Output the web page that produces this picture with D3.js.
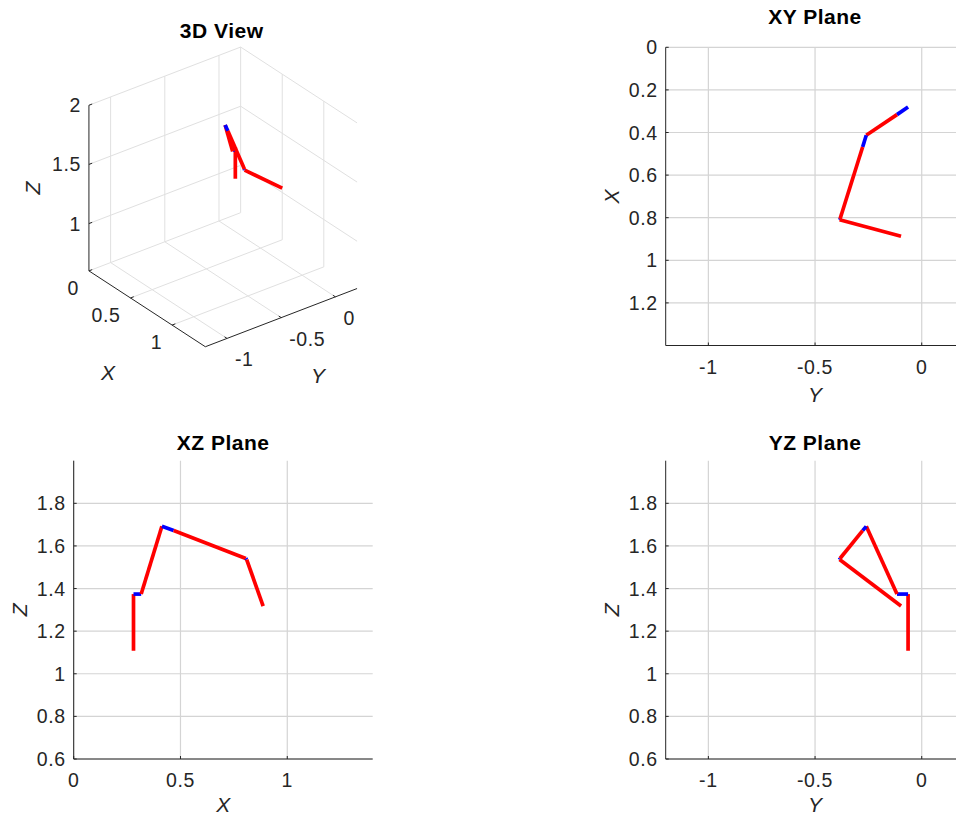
<!DOCTYPE html>
<html>
<head>
<meta charset="utf-8">
<script src="https://cdn.jsdelivr.net/npm/d3@7"></script>
<style>
  html, body { margin: 0; padding: 0; background: #fff; }
  svg { display: block; }
  text { font-family: "Liberation Sans", Arial, Helvetica, sans-serif; }
</style>
</head>
<body>
<svg id="fig" width="956" height="817"></svg>
<script>
// Joint chain of the arm (world coordinates, metres)
const jointX = [0.280, 0.280, 0.316, 0.413, 0.468, 0.806, 0.810, 0.887];
const jointY = [-0.064, -0.064, -0.116, -0.260, -0.277, -0.383, -0.385, -0.097];
const jointZ = [1.108, 1.374, 1.374, 1.692, 1.672, 1.541, 1.536, 1.318];
// colour of each link between consecutive joints (links vs. joint offsets)
const linkColor = ["red", "blue", "red", "blue", "red", "blue", "red"];

// Axis limits
const xLim = [0, 1.4];
const yLim = [-1.2, 0.2];
const zLim = [0.6, 2.0];

// Tick values
const ticksX3 = [0, 0.5, 1];
const ticksY3 = [-1, -0.5, 0];
const ticksZ3 = [1, 1.5, 2];
const ticksXvert = [0, 0.2, 0.4, 0.6, 0.8, 1, 1.2];
const ticksXhoriz = [0, 0.5, 1];
const ticksYhoriz = [-1, -0.5, 0];
const ticksZvert = [0.6, 0.8, 1, 1.2, 1.4, 1.6, 1.8];

const titles = ["3D View", "XY Plane", "XZ Plane", "YZ Plane"];

const AXIS = "#262626", GRID2 = "#d4d4d4", GRID3 = "#e0e0e0";
const LW = 3.7, FS = 19.5;

const svg = d3.select("#fig");
const joints = jointX.map((x, i) => ({ x, y: jointY[i], z: jointZ[i] }));
const links = linkColor.map((c, i) => ({ a: joints[i], b: joints[i + 1], color: c }));
const fmt = v => String(v);

function tickText(g, x, y, txt, anchor) {
  g.append("text").attr("x", x).attr("y", y)
    .attr("text-anchor", anchor).attr("dominant-baseline", "central")
    .attr("font-size", FS).attr("letter-spacing", "0.6px").attr("fill", AXIS).text(txt);
}
function axisLabel(g, x, y, txt, rotate) {
  const t = g.append("text").attr("x", x).attr("y", y)
    .attr("text-anchor", "middle").attr("dominant-baseline", "central")
    .attr("font-size", 21).attr("font-style", "italic").attr("fill", AXIS).text(txt);
  if (rotate) t.attr("transform", `rotate(-90,${x},${y})`);
}
function title(x, y, txt) {
  svg.append("text").attr("x", x).attr("y", y)
    .attr("text-anchor", "middle").attr("dominant-baseline", "central")
    .attr("font-size", 21).attr("font-weight", "bold").attr("letter-spacing", "0.5px")
    .attr("fill", "#000").text(txt);
}

// ---------- 3D view (orthographic, az 52.5°, el 30°) ----------
(function view3d() {
  const az = 52.5 * Math.PI / 180, el = 30 * Math.PI / 180;
  const ca = Math.cos(az), sa = Math.sin(az), ce = Math.cos(el), se = Math.sin(el);
  const sc = 136.6;                       // pixels per metre
  const cen = [d3.mean(xLim), d3.mean(yLim), d3.mean(zLim)];
  const sxS = d3.scaleLinear().domain([-1, 1]).range([223 - sc, 223 + sc]);
  const syS = d3.scaleLinear().domain([-1, 1]).range([196.9 + sc, 196.9 - sc]);
  const P = (x, y, z) => {
    const dx = x - cen[0], dy = y - cen[1], dz = z - cen[2];
    const r = ca * dx + sa * dy;
    const f = -sa * dx + ca * dy;
    const u = ce * dz + se * f;
    return [sxS(r), syS(u)];
  };
  const g = svg.append("g");
  const line = (p, q, stroke, w) => g.append("line")
    .attr("x1", p[0]).attr("y1", p[1]).attr("x2", q[0]).attr("y2", q[1])
    .attr("stroke", stroke).attr("stroke-width", w);

  const [x0, x1] = xLim, [y0, y1] = yLim, [z0, z1] = zLim;
  // back wall x = xmin
  ticksY3.forEach(y => line(P(x0, y, z0), P(x0, y, z1), GRID3, 1));
  ticksZ3.forEach(z => line(P(x0, y0, z), P(x0, y1, z), GRID3, 1));
  // back wall y = ymax
  ticksX3.forEach(x => line(P(x, y1, z0), P(x, y1, z1), GRID3, 1));
  ticksZ3.forEach(z => line(P(x0, y1, z), P(x1, y1, z), GRID3, 1));
  // floor z = zmin
  ticksX3.forEach(x => line(P(x, y0, z0), P(x, y1, z0), GRID3, 1));
  ticksY3.forEach(y => line(P(x0, y, z0), P(x1, y, z0), GRID3, 1));

  // axis lines
  line(P(x0, y0, z0), P(x1, y0, z0), AXIS, 1);
  line(P(x1, y0, z0), P(x1, y1, z0), AXIS, 1);
  line(P(x0, y0, z0), P(x0, y0, z1), AXIS, 1);
  const tl = 0.03;
  ticksX3.forEach(x => line(P(x, y0, z0), P(x, y0 + tl, z0), AXIS, 1));
  ticksY3.forEach(y => line(P(x1, y, z0), P(x1 - tl, y, z0), AXIS, 1));
  ticksZ3.forEach(z => line(P(x0, y0, z), P(x0, y0 + tl, z), AXIS, 1));

  // tick labels
  ticksX3.forEach(x => { const p = P(x, y0, z0); tickText(g, p[0] - 10, p[1] + 17, fmt(x), "end"); });
  ticksY3.forEach(y => { const p = P(x1, y, z0); tickText(g, p[0] + 8, p[1] + 21, fmt(y), "start"); });
  ticksZ3.forEach(z => { const p = P(x0, y0, z); tickText(g, p[0] - 8, p[1], fmt(z), "end"); });

  axisLabel(g, 108, 372, "X");
  axisLabel(g, 318, 375, "Y");
  axisLabel(g, 32, 188, "Z", true);

  // arm
  links.forEach(l => {
    const p = P(l.a.x, l.a.y, l.a.z), q = P(l.b.x, l.b.y, l.b.z);
    line(p, q, l.color, LW);
  });
  title(221.7, 30, titles[0]);
})();

// ---------- 2D projections ----------
function plane2d(opt) {
  const g = svg.append("g");
  const { hs, vs, hTicks, vTicks, hKey, vKey, hLabel, vLabel } = opt;
  const [L, R] = hs.range(), vr = vs.range();
  const T = Math.min(...vr), B = Math.max(...vr);
  const left = Math.min(L, R), right = Math.max(L, R);
  // grid
  hTicks.forEach(t => g.append("line").attr("x1", hs(t)).attr("x2", hs(t))
    .attr("y1", T).attr("y2", B).attr("stroke", GRID2).attr("stroke-width", 1.2));
  vTicks.forEach(t => g.append("line").attr("x1", left).attr("x2", right)
    .attr("y1", vs(t)).attr("y2", vs(t)).attr("stroke", GRID2).attr("stroke-width", 1.2));
  // axis lines (left & bottom)
  g.append("line").attr("x1", left).attr("x2", left).attr("y1", T).attr("y2", B)
    .attr("stroke", AXIS).attr("stroke-width", 1);
  g.append("line").attr("x1", left).attr("x2", right).attr("y1", B).attr("y2", B)
    .attr("stroke", AXIS).attr("stroke-width", 1);
  // inward ticks
  hTicks.forEach(t => g.append("line").attr("x1", hs(t)).attr("x2", hs(t))
    .attr("y1", B).attr("y2", B - 3).attr("stroke", AXIS));
  vTicks.forEach(t => g.append("line").attr("x1", left).attr("x2", left + 3)
    .attr("y1", vs(t)).attr("y2", vs(t)).attr("stroke", AXIS));
  // tick labels
  hTicks.forEach(t => tickText(g, hs(t), B + 21, fmt(t), "middle"));
  vTicks.forEach(t => tickText(g, left - 8, vs(t), fmt(t), "end"));
  // axis labels
  axisLabel(g, (left + right) / 2, hLabel.y, hLabel.text);
  axisLabel(g, vLabel.x, (T + B) / 2, vLabel.text, true);
  // arm
  links.forEach(l => g.append("line")
    .attr("x1", hs(l.a[hKey])).attr("y1", vs(l.a[vKey]))
    .attr("x2", hs(l.b[hKey])).attr("y2", vs(l.b[vKey]))
    .attr("stroke", l.color).attr("stroke-width", LW));
  title((left + right) / 2, opt.titleY, opt.title);
}

// XY plane: Y horizontal, X vertical (downwards)
plane2d({
  hs: d3.scaleLinear().domain(yLim).range([665.7, 964.4]),
  vs: d3.scaleLinear().domain(xLim).range([47.3, 345.5]),
  hTicks: ticksYhoriz, vTicks: ticksXvert, hKey: "y", vKey: "x",
  hLabel: { text: "Y", y: 394 }, vLabel: { text: "X", x: 611.7 },
  title: titles[1], titleY: 16.7
});
// XZ plane
plane2d({
  hs: d3.scaleLinear().domain(xLim).range([73.7, 372.7]),
  vs: d3.scaleLinear().domain(zLim).range([759, 460.7]),
  hTicks: ticksXhoriz, vTicks: ticksZvert, hKey: "x", vKey: "z",
  hLabel: { text: "X", y: 804 }, vLabel: { text: "Z", x: 20 },
  title: titles[2], titleY: 442.7
});
// YZ plane
plane2d({
  hs: d3.scaleLinear().domain(yLim).range([665.7, 964.4]),
  vs: d3.scaleLinear().domain(zLim).range([759, 460.7]),
  hTicks: ticksYhoriz, vTicks: ticksZvert, hKey: "y", vKey: "z",
  hLabel: { text: "Y", y: 804 }, vLabel: { text: "Z", x: 611.7 },
  title: titles[3], titleY: 442.7
});
</script>
</body>
</html>
